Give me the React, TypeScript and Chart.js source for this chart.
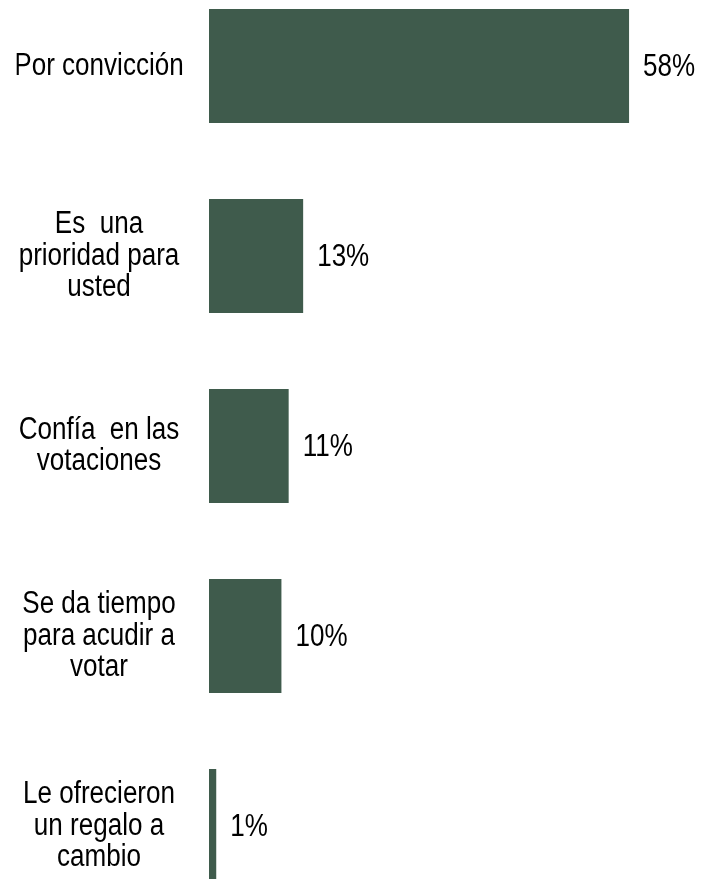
import React, { useEffect, useRef } from "react";
import { Chart, registerables, CategoryScale } from "chart.js";

const categories: string[][] = [
  ["Por convicción"],
  ["Es  una", "prioridad para", "usted"],
  ["Confía  en las", "votaciones"],
  ["Se da tiempo", "para acudir a", "votar"],
  ["Le ofrecieron", "un regalo a", "cambio"],
];
const values: number[] = [58, 13, 11, 10, 1];
const valueLabels: string[] = ["58%", "13%", "11%", "10%", "1%"];

const BAR_COLOR = "#3F5B4C";
const FONT_FAMILY = "'Liberation Sans', Arial, sans-serif";
const FONT_SIZE = 31;
const NARROW = 0.84; // the reference uses a narrow face
const LABEL_CENTER_X = 99;

// Category scale whose tick labels are drawn with a condensed horizontal scale
class NarrowCategoryScale extends CategoryScale {
  static id = "narrowCategory";
  static defaults = CategoryScale.defaults;
  drawLabels(chartArea: any) {
    const items: any[] = (this as any).getLabelItems(chartArea);
    const cx = items.length ? items[0].options.translation[0] : 0;
    const ctx = (this as any).ctx;
    ctx.save();
    ctx.translate(LABEL_CENTER_X - NARROW * cx, 0);
    ctx.scale(NARROW, 1);
    super.drawLabels(chartArea);
    ctx.restore();
  }
}

Chart.register(...registerables, NarrowCategoryScale);

const valueLabelPlugin = {
  id: "valueLabels",
  afterDatasetsDraw(chart: any) {
    const ctx = chart.ctx;
    const meta = chart.getDatasetMeta(0);
    meta.data.forEach((bar: any, i: number) => {
      ctx.save();
      ctx.translate(bar.x + 14, bar.y + 1);
      ctx.scale(NARROW, 1);
      ctx.font = `${FONT_SIZE}px ${FONT_FAMILY}`;
      ctx.fillStyle = "#000000";
      ctx.textAlign = "left";
      ctx.textBaseline = "middle";
      ctx.fillText(valueLabels[i], 0, 0);
      ctx.restore();
    });
  },
};

export default function App() {
  const canvasRef = useRef<HTMLCanvasElement | null>(null);

  useEffect(() => {
    if (!canvasRef.current) return;
    const chart = new Chart(canvasRef.current, {
      type: "bar",
      data: {
        labels: categories,
        datasets: [
          {
            data: values,
            backgroundColor: BAR_COLOR,
            borderWidth: 0,
            barPercentage: 0.6,
            categoryPercentage: 1,
          },
        ],
      },
      options: {
        indexAxis: "y",
        animation: false,
        responsive: true,
        maintainAspectRatio: false,
        layout: { padding: { top: 0, bottom: 0, left: 0, right: 14 } },
        plugins: {
          legend: { display: false },
          tooltip: { enabled: false },
          title: { display: false },
        },
        scales: {
          x: {
            display: false,
            min: 0,
            max: 66,
          },
          y: {
            type: "narrowCategory",
            offset: true,
            grid: { display: false, drawTicks: false },
            border: { display: false },
            afterFit: (scale: any) => {
              scale.width = 209;
              scale.paddingTop = 0;
              scale.paddingBottom = 0;
            },
            ticks: {
              crossAlign: "center",
              padding: 10,
              color: "#000000",
              autoSkip: false,
              font: { family: FONT_FAMILY, size: FONT_SIZE, lineHeight: 1.02 },
            },
          },
        },
      },
      plugins: [valueLabelPlugin],
    });
    return () => chart.destroy();
  }, []);

  return (
    <div
      style={{
        position: "fixed",
        top: 0,
        left: 0,
        width: 701,
        height: 879,
        overflow: "hidden",
        background: "#ffffff",
      }}
    >
      <div style={{ position: "absolute", top: -29, left: 0, width: 701, height: 950 }}>
        <canvas ref={canvasRef} />
      </div>
    </div>
  );
}
